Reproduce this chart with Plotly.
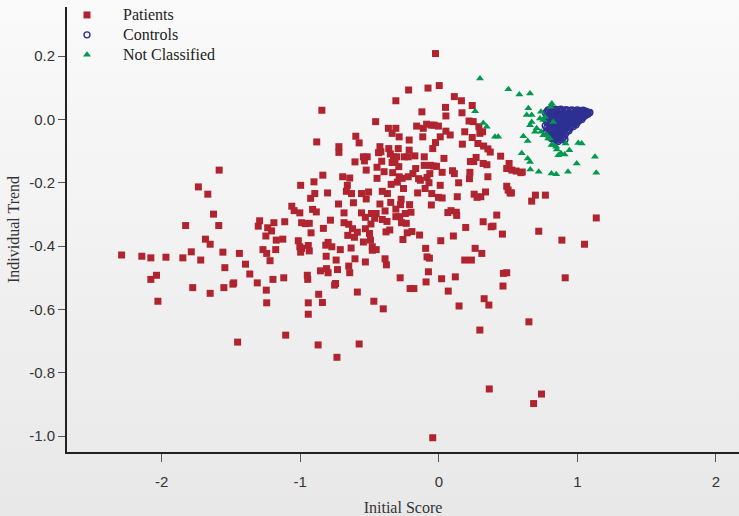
import base64
import plotly.graph_objects as go

# ---------------- data ----------------
patients_x = [
    -2.289, -2.143, -2.078, -1.969, -1.847, -1.786, -1.718, -2.078, -2.037, -2.027,
    -1.827, -1.776, -1.735, -1.667, -1.684, -1.650, -1.650, -1.626, -1.588, -1.585,
    -1.558, -1.544, -1.551, -1.486, -1.480, -1.452, -1.439, -1.395, -1.364, -1.310,
    -1.303, -1.293, -1.269, -1.248, -1.242, -1.218, -1.245, -1.242, -1.235, -1.207,
    -1.190, -1.177, -1.173, -1.197, -1.126, -1.119, -1.112, -1.105, -1.061, -1.044,
    -1.003, -0.997, -0.990, -1.014, -1.003, -0.997, -0.990, -0.963, -0.935, -0.942,
    -0.935, -0.949, -0.946, -0.942, -0.942, -0.925, -0.911, -0.901, -0.884, -0.881,
    -0.895, -0.922, -0.871, -0.867, -0.840, -0.844, -0.837, -0.833, -0.816, -0.803,
    -0.813, -0.854, -0.810, -0.799, -0.799, -0.782, -0.772, -0.752, -0.745, -0.735,
    -0.741, -0.731, -0.724, -0.721, -0.721, -0.711, -0.694, -0.684, -0.684, -0.667,
    -0.660, -0.657, -0.650, -0.650, -0.643, -0.633, -0.643, -0.630, -0.623, -0.616,
    -0.605, -0.609, -0.605, -0.599, -0.588, -0.575, -0.575, -0.588, -0.558, -0.558,
    -0.544, -0.544, -0.537, -0.530, -0.530, -0.530, -0.524, -0.524, -0.517, -0.507,
    -0.500, -0.493, -0.490, -0.486, -0.480, -0.480, -0.469, -0.463, -0.456, -0.452,
    -0.452, -0.446, -0.446, -0.435, -0.425, -0.425, -0.418, -0.412, -0.408, -0.408,
    -0.401, -0.395, -0.388, -0.388, -0.381, -0.378, -0.374, -0.371, -0.364, -0.361,
    -0.354, -0.350, -0.347, -0.344, -0.337, -0.337, -0.333, -0.327, -0.316, -0.310,
    -0.310, -0.310, -0.310, -0.303, -0.299, -0.293, -0.289, -0.286, -0.286, -0.282,
    -0.279, -0.276, -0.272, -0.269, -0.265, -0.259, -0.255, -0.248, -0.242, -0.235,
    -0.228, -0.221, -0.218, -0.221, -0.214, -0.214, -0.211, -0.207, -0.201, -0.194,
    -0.187, -0.180, -0.173, -0.167, -0.160, -0.153, -0.146, -0.139, -0.133, -0.122,
    -0.116, -0.112, -0.105, -0.105, -0.099, -0.095, -0.092, -0.088, -0.085, -0.085,
    -0.078, -0.075, -0.071, -0.068, -0.065, -0.061, -0.054, -0.054, -0.051, -0.044,
    -0.037, -0.034, -0.044, -0.024, -0.024, -0.017, -0.003, -0.003, 0.003, 0.010,
    0.010, 0.014, 0.020, 0.024, 0.024, 0.037, 0.048, 0.051, 0.051, 0.065,
    0.068, 0.082, 0.088, 0.099, 0.105, 0.112, 0.112, 0.119, 0.126, 0.129,
    0.133, 0.143, 0.146, 0.163, 0.167, 0.170, 0.187, 0.187, 0.194, 0.218,
    0.221, 0.224, 0.228, 0.235, 0.241, 0.241, 0.248, 0.252, 0.255, 0.262,
    0.269, 0.276, 0.282, 0.289, 0.296, 0.296, 0.303, 0.310, 0.316, 0.320,
    0.320, 0.323, 0.327, 0.337, 0.347, 0.354, 0.354, 0.361, 0.364, 0.371,
    0.378, 0.391, 0.418, 0.446, 0.459, 0.463, 0.466, 0.490, 0.490, 0.490,
    0.500, 0.507, 0.514, 0.524, 0.527, 0.558, 0.592, 0.602, 0.650, 0.670,
    0.697, 0.684, 0.721, 0.741, 0.769, 0.888, 0.912, 1.051, 1.136,
]
patients_y = [
    -0.428, -0.432, -0.437, -0.435, -0.437, -0.418, -0.444, -0.505, -0.492, -0.574,
    -0.335, -0.531, -0.213, -0.236, -0.378, -0.394, -0.549, -0.299, -0.335, -0.160,
    -0.419, -0.468, -0.531, -0.520, -0.516, -0.703, -0.423, -0.457, -0.488, -0.516,
    -0.337, -0.320, -0.411, -0.368, -0.423, -0.446, -0.539, -0.579, -0.342, -0.352,
    -0.326, -0.411, -0.381, -0.505, -0.378, -0.500, -0.323, -0.681, -0.274, -0.288,
    -0.295, -0.208, -0.326, -0.383, -0.402, -0.419, -0.407, -0.329, -0.328, -0.398,
    -0.415, -0.492, -0.505, -0.579, -0.615, -0.249, -0.284, -0.197, -0.292, -0.071,
    -0.234, -0.358, -0.712, -0.552, -0.578, 0.029, -0.176, -0.344, -0.397, -0.232,
    -0.432, -0.478, -0.471, -0.484, -0.388, -0.318, -0.402, -0.523, -0.518, -0.751,
    -0.444, -0.474, -0.267, -0.086, -0.104, -0.411, -0.181, -0.326, -0.295, -0.227,
    -0.208, -0.366, -0.331, -0.463, -0.185, -0.406, -0.484, -0.234, -0.345, -0.263,
    -0.134, -0.372, -0.440, -0.053, -0.545, -0.074, -0.709, -0.356, -0.295, -0.234,
    -0.387, -0.118, -0.131, -0.309, -0.345, -0.450, -0.160, -0.251, -0.118, -0.229,
    -0.360, -0.381, -0.330, -0.297, -0.402, -0.413, -0.574, -0.312, -0.007, -0.297,
    -0.411, -0.151, -0.186, -0.105, -0.086, -0.267, -0.102, -0.132, -0.227, -0.316,
    -0.598, -0.165, -0.289, -0.440, -0.355, -0.459, -0.322, -0.234, -0.028, -0.092,
    -0.349, -0.109, -0.262, -0.205, -0.044, -0.136, -0.168, -0.118, -0.131, 0.059,
    -0.028, -0.307, -0.283, -0.118, -0.198, -0.092, -0.149, -0.055, -0.181, -0.307,
    -0.500, -0.269, -0.252, -0.326, -0.186, -0.379, -0.218, -0.118, -0.297, -0.328,
    -0.358, -0.118, 0.093, -0.181, -0.097, -0.065, -0.269, -0.534, -0.293, -0.354,
    -0.171, -0.534, -0.115, -0.155, -0.021, -0.232, -0.187, -0.365, -0.192, 0.024,
    -0.055, -0.028, -0.118, -0.145, -0.218, -0.407, -0.513, -0.015, -0.434, -0.183,
    0.099, -0.481, -0.200, -0.438, -0.171, -0.145, -0.018, -0.270, -0.234, -0.092,
    -0.147, -0.018, -1.005, 0.208, -0.073, -0.148, -0.021, -0.246, 0.107, -0.055,
    -0.208, -0.383, -0.503, -0.167, -0.248, -0.123, 0.038, 0.011, -0.037, -0.294,
    -0.542, -0.049, -0.288, -0.162, -0.368, 0.072, -0.171, -0.497, -0.293, -0.303,
    -0.244, -0.200, -0.589, 0.059, 0.021, -0.078, -0.039, -0.444, -0.341, -0.005,
    -0.187, -0.167, -0.133, -0.444, -0.057, 0.044, -0.007, -0.133, -0.236, -0.407,
    -0.120, -0.246, -0.076, -0.023, -0.044, -0.665, -0.244, -0.423, -0.039, -0.323,
    -0.139, -0.084, -0.566, -0.229, -0.143, -0.181, -0.093, -0.586, -0.851, -0.103,
    -0.339, -0.337, -0.302, -0.116, -0.362, -0.526, -0.486, -0.155, -0.484, -0.211,
    -0.223, -0.139, -0.232, -0.232, -0.160, -0.163, -0.168, -0.166, -0.639, -0.258,
    -0.239, -0.897, -0.353, -0.867, -0.239, -0.381, -0.500, -0.394, -0.311,
]

controls_x = [
    0.770, 0.772, 0.768, 0.771,
    0.789, 0.792, 0.788, 0.791, 0.790,
    0.810, 0.808, 0.812, 0.809, 0.811, 0.807, 0.813,
    0.829, 0.832, 0.828, 0.831, 0.830, 0.833,
    0.850, 0.848, 0.852, 0.849, 0.851, 0.847, 0.853,
    0.869, 0.872, 0.868, 0.871, 0.870, 0.873, 0.867,
    0.890, 0.888, 0.892, 0.889, 0.891, 0.887, 0.893,
    0.909, 0.912, 0.908, 0.911, 0.910, 0.913,
    0.930, 0.928, 0.932, 0.929, 0.931,
    0.949, 0.952, 0.948, 0.951, 0.950,
    0.970, 0.968, 0.972, 0.969, 0.971,
    0.989, 0.992, 0.988, 0.991, 0.990,
    1.010, 1.008, 1.012, 1.009,
    1.029, 1.032, 1.028, 1.031,
    1.050, 1.048, 1.052,
    1.068, 1.071,
    1.085,
    0.840, 0.875, 0.910, 0.860, 0.895,
    # second, interleaved set
    0.781, 0.779, 0.782, 0.780, 0.778,
    0.801, 0.799, 0.802, 0.800, 0.798, 0.801,
    0.821, 0.819, 0.822, 0.820, 0.818, 0.821,
    0.841, 0.839, 0.842, 0.840, 0.838, 0.841, 0.839,
    0.861, 0.859, 0.862, 0.860, 0.858, 0.861,
    0.881, 0.879, 0.882, 0.880, 0.878, 0.881, 0.879,
    0.901, 0.899, 0.902, 0.900, 0.898, 0.901,
    0.921, 0.919, 0.922, 0.920, 0.918, 0.921,
    0.941, 0.939, 0.942, 0.940, 0.938,
    0.961, 0.959, 0.962, 0.960, 0.958,
    0.981, 0.979, 0.982, 0.980,
    1.001, 0.999, 1.002, 1.000, 0.998,
    1.021, 1.019, 1.022,
    1.041, 1.039, 1.042, 1.040,
    1.061, 1.059, 1.062,
    1.075, 1.077,
    1.090,
]
controls_y = [
    0.020, 0.000, -0.020, -0.040,
    0.030, 0.010, -0.010, -0.030, -0.048,
    0.035, 0.018, 0.002, -0.015, -0.032, -0.048, -0.060,
    0.030, 0.014, -0.004, -0.020, -0.036, -0.052,
    0.028, 0.012, -0.005, -0.022, -0.040, -0.055, -0.066,
    0.030, 0.015, 0.000, -0.016, -0.030, -0.045, -0.058,
    0.027, 0.011, -0.006, -0.020, -0.035, -0.050, -0.064,
    0.029, 0.014, -0.002, -0.017, -0.031, -0.046,
    0.027, 0.012, -0.003, -0.018, -0.033,
    0.028, 0.014, 0.000, -0.014, -0.027,
    0.027, 0.013, 0.000, -0.012, -0.022,
    0.028, 0.016, 0.004, -0.008, -0.017,
    0.027, 0.016, 0.005, -0.005,
    0.027, 0.018, 0.009, 0.000,
    0.025, 0.018, 0.011,
    0.024, 0.018,
    0.021,
    -0.063, -0.053, -0.063, -0.070, -0.058,
    # second, interleaved set
    0.025, 0.010, -0.010, -0.025, -0.042,
    0.030, 0.012, -0.005, -0.022, -0.040, -0.054,
    0.026, 0.008, -0.010, -0.026, -0.043, -0.057,
    0.032, 0.020, 0.004, -0.012, -0.030, -0.046, -0.060,
    0.022, 0.006, -0.010, -0.026, -0.048, -0.062,
    0.032, 0.020, 0.005, -0.012, -0.026, -0.042, -0.056,
    0.020, 0.004, -0.012, -0.027, -0.040, -0.055,
    0.031, 0.020, 0.006, -0.010, -0.025, -0.040,
    0.020, 0.006, -0.009, -0.024, -0.036,
    0.030, 0.020, 0.007, -0.006, -0.019,
    0.021, 0.008, -0.004, -0.014,
    0.030, 0.021, 0.011, 0.000, -0.010,
    0.022, 0.012, 0.003,
    0.029, 0.022, 0.014, 0.006,
    0.026, 0.020, 0.014,
    0.022, 0.017,
    0.022,
]

nc_x = [
    0.297, 0.502, 0.581, 0.658, 0.262, 0.321, 0.346, 0.405, 0.429, 0.646,
    0.634, 0.670, 0.737, 0.815, 0.806, 0.670, 0.658, 0.730, 0.754, 0.766,
    0.826, 0.706, 0.694, 0.738, 0.610, 0.641, 0.754, 0.779, 0.789, 0.802,
    0.813, 0.826, 0.847, 0.851, 0.881, 0.908, 0.942, 0.915, 1.006, 1.031,
    0.598, 0.641, 0.658, 0.660, 0.721, 0.813, 0.847, 0.932, 0.995, 1.127,
    1.136, 0.862,
]
nc_y = [
    0.129, 0.095, 0.079, 0.082, 0.026, -0.011, -0.023, -0.055, -0.055, 0.035,
    0.014, 0.014, 0.024, 0.050, 0.040, -0.008, -0.018, 0.003, -0.002, 0.008,
    -0.008, -0.028, -0.039, -0.039, -0.053, -0.068, -0.050, -0.049, -0.060, -0.060,
    -0.081, -0.081, -0.086, -0.095, -0.107, -0.111, -0.097, -0.076, -0.074, -0.076,
    -0.107, -0.123, -0.134, -0.158, -0.165, -0.171, -0.173, -0.165, -0.139, -0.118,
    -0.168, -0.113,
]

series_names = ["Patients", "Controls", "Not Classified"]

x_tickvals = [-2, -1, 0, 1, 2]
x_ticktext = ["-2", "-1", "0", "1", "2"]
y_tickvals = [0.2, 0.0, -0.2, -0.4, -0.6, -0.8, -1.0]
y_ticktext = ["0.2", "0.0", "-0.2", "-0.4", "-0.6", "-0.8", "-1.0"]

# ---------------- style ----------------
RED = "#B0242F"
BLUE = "#2E3192"
GREEN = "#00994E"
NB = "\u00a0" * 4


def legend_label(s):
    return '<span style="font-size:16px">' + NB + s + "</span>"


fig = go.Figure()
fig.add_trace(go.Scatter(
    x=patients_x, y=patients_y, mode="markers", name=legend_label(series_names[0]),
    marker=dict(symbol="square", size=7, color=RED, line=dict(width=0)),
))
fig.add_trace(go.Scatter(
    x=controls_x, y=controls_y, mode="markers", name=legend_label(series_names[1]),
    marker=dict(symbol="circle-open", size=6, color=BLUE, line=dict(width=1.4, color=BLUE)),
))
fig.add_trace(go.Scatter(
    x=nc_x, y=nc_y, mode="markers", name=legend_label(series_names[2]),
    marker=dict(symbol="triangle-up", size=7, color=GREEN, line=dict(width=0)),
))

W, H = 739, 516
L, R, T, B = 67, 0, 7, 64
pw, ph = W - L - R, H - T - B

svg = ('<svg xmlns="http://www.w3.org/2000/svg" width="10" height="100" preserveAspectRatio="none">'
       '<defs><linearGradient id="g" x1="0" y1="0" x2="0" y2="1">'
       '<stop offset="0" stop-color="#fafafa"/><stop offset="1" stop-color="#e8e8e8"/>'
       '</linearGradient></defs><rect width="10" height="100" fill="url(#g)"/></svg>')
src = "data:image/svg+xml;base64," + base64.b64encode(svg.encode()).decode()

fig.update_layout(
    width=W, height=H,
    margin=dict(l=L, r=R, t=T, b=B, pad=0),
    paper_bgcolor="#f1f1f1",
    plot_bgcolor="rgba(0,0,0,0)",
    images=[dict(source=src, xref="paper", yref="paper",
                 x=-L / pw, y=1 + T / ph, sizex=W / pw, sizey=H / ph,
                 xanchor="left", yanchor="top", sizing="stretch", layer="below")],
    showlegend=True,
    legend=dict(x=0.0, y=1 + T / ph, xanchor="left", yanchor="top",
                bgcolor="rgba(0,0,0,0)", borderwidth=0,
                font=dict(family="Liberation Serif", size=13, color="#222"),
                tracegroupgap=0, itemsizing="trace"),
    xaxis=dict(range=[-2.683, 2.166], tickvals=x_tickvals, ticktext=x_ticktext,
               showgrid=False, zeroline=False, showline=True, linecolor="#222", linewidth=2,
               ticks="outside", ticklen=8, tickcolor="#555", tickwidth=1,
               ticklabelstandoff=7,
               tickfont=dict(family="Liberation Sans", size=15, color="#333"),
               title=dict(text="Initial Score", standoff=13,
                          font=dict(family="Liberation Serif", size=16, color="#333"))),
    yaxis=dict(range=[-1.050, 0.355], tickvals=y_tickvals, ticktext=y_ticktext,
               showgrid=False, zeroline=False, showline=True, linecolor="#222", linewidth=2,
               ticks="outside", ticklen=7, tickcolor="#555", tickwidth=1,
               tickfont=dict(family="Liberation Sans", size=15, color="#333"),
               title=dict(text="Individual Trend", standoff=6,
                          font=dict(family="Liberation Serif", size=16, color="#333"))),
)

fig.write_html("out.html", config={"displayModeBar": False})
